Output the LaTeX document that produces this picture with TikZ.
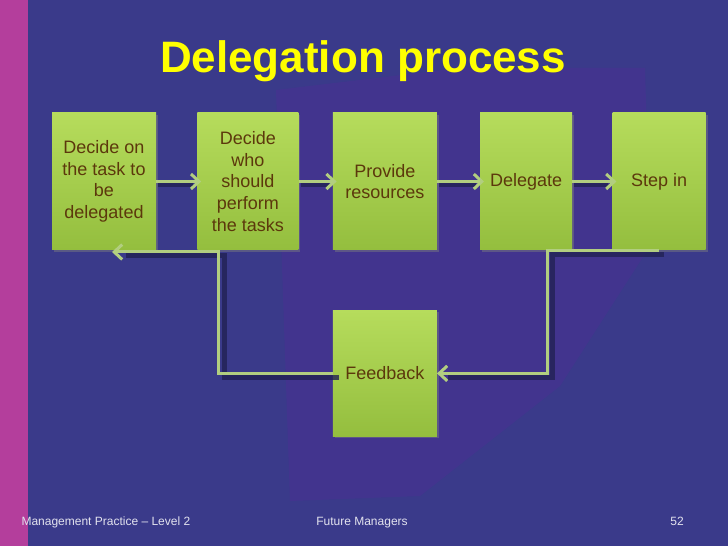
\documentclass[tikz,border=0pt]{standalone}
\usepackage{fontspec}
\setmainfont{Liberation Sans}
\usetikzlibrary{arrows.meta,positioning,shadows}
\definecolor{slideblue}{RGB}{58,58,138}
\definecolor{patchpurple}{RGB}{72,48,146}
\definecolor{stripmag}{RGB}{180,62,156}
\definecolor{boxtop}{RGB}{182,220,92}
\definecolor{boxbot}{RGB}{148,190,62}
\definecolor{taskbrown}{RGB}{92,56,12}
\definecolor{linkgreen}{RGB}{178,206,128}
\definecolor{shadowblue}{RGB}{34,34,84}
\definecolor{titleyellow}{RGB}{255,255,0}
\definecolor{footgrey}{RGB}{226,226,238}

\begin{document}
\begin{tikzpicture}[x=1pt,y=1pt,
    task/.style={rectangle, minimum height=137pt, inner sep=2pt,
      top color=boxtop, bottom color=boxbot, text=taskbrown, align=center,
      font=\fontsize{18}{21.6}\selectfont,
      drop shadow={shadow xshift=2pt,shadow yshift=-2pt,opacity=.45}},
    flow/.style={draw=linkgreen, line width=3pt,
      -{Straight Barb[length=8pt,width=15pt,line width=3pt]}},
    shade/.style={draw=shadowblue, line width=5pt, opacity=.8},
    foot/.style={text=footgrey, font=\fontsize{12}{14}\selectfont, anchor=base}]
  % slide background
  \useasboundingbox (0,0) rectangle (728,546);
  \fill[slideblue] (0,0) rectangle (728,546);
  \fill[patchpurple, opacity=.6] (276,456) -- (460,478) -- (645,478) -- (650,300)
    -- (560,160) -- (420,50) -- (290,45) -- cycle;
  \fill[stripmag] (0,0) rectangle (28,546);

  \node[text=titleyellow, font=\fontsize{44}{52}\selectfont\bfseries, anchor=base]
    (head) at (363,473) {Delegation process};

  % process steps
  \node[task, minimum width=104pt] (d1) at (104,364.5) {Decide on\\the task to\\be\\delegated};
  \node[task, minimum width=101pt, right=41pt of d1] (d2) {Decide\\who\\should\\perform\\the tasks};
  \node[task, minimum width=104pt, right=34pt of d2] (d3) {Provide\\resources};
  \node[task, minimum width=92pt, right=43pt of d3] (d4) {Delegate};
  \node[task, minimum width=93pt, right=40pt of d4] (d5) {Step in};
  \node[task, minimum width=104pt, minimum height=126pt, below=60pt of d3] (fb) {Feedback};

  \foreach \a/\b in {d1/d2,d2/d3,d3/d4,d4/d5} {
    \draw[shade, transform canvas={shift={(2pt,-3pt)}}] (\a.east) -- ([xshift=-6pt]\b.west);
    \draw[flow] (\a.east) -- ([xshift=4pt]\b.west);
  }

  % feedback loop
  \coordinate (colR) at (547,0);
  \coordinate (colL) at (218,0);
  \coordinate (back) at (112,294);
  \draw[shade, transform canvas={shift={(5pt,-4pt)}}]
    (d5.south) -| (fb.east -| colR) -- ([xshift=6pt]fb.east);
  \draw[shade, transform canvas={shift={(6pt,-4pt)}}]
    (fb.west) -| (colL |- back) -- ([xshift=8pt]back);
  \draw[flow] (d5.south) -| (fb.east -| colR) -- (fb.east);
  \draw[flow] (fb.west) -| (colL |- back) -- (back);

  % footer
  \node[foot, anchor=base west] (course) at (18,20) {Management Practice \textendash{} Level 2};
  \node[foot] (brand) at (362,20) {Future Managers};
  \node[foot] (page) at (677,20) {52};
\end{tikzpicture}
\end{document}
